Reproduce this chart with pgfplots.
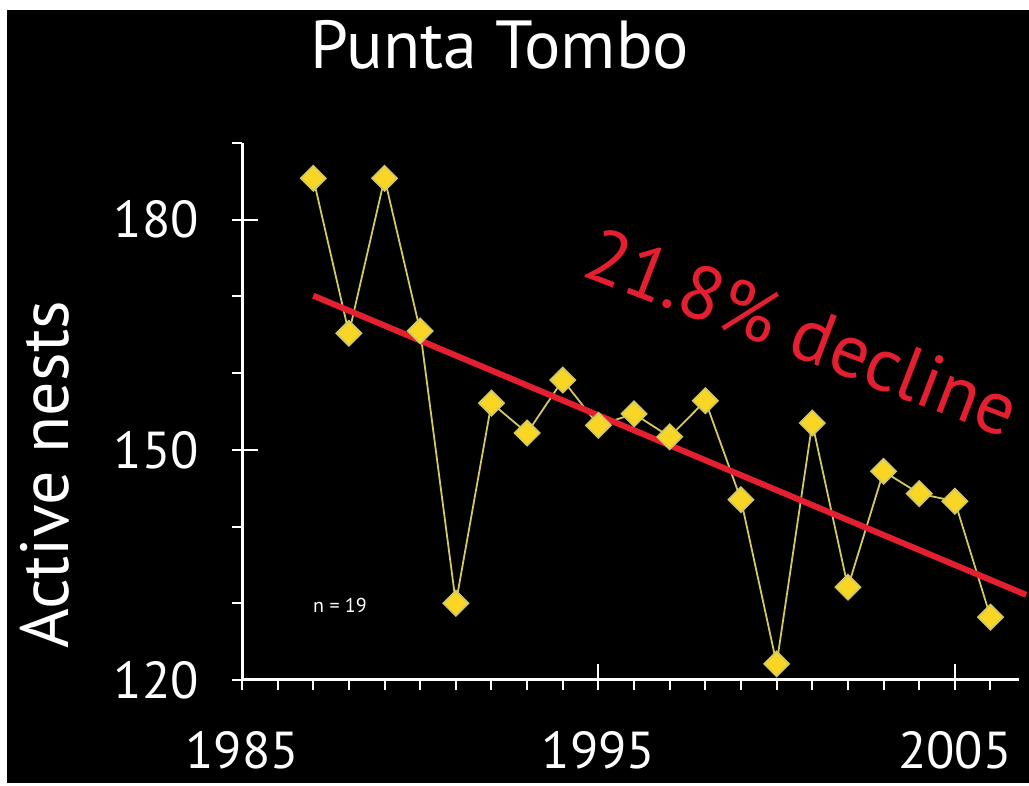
\documentclass[border=0pt]{standalone}
\usepackage{fontspec}
\setmainfont{PT Sans}
\usepackage{pgfplots}
\pgfplotsset{compat=1.18}

\definecolor{nestyellow}{RGB}{250,214,36}
\definecolor{nestline}{RGB}{210,200,100}
\definecolor{trendred}{RGB}{228,32,48}

\begin{document}
\begin{tikzpicture}[x=0.5pt,y=0.5pt]
\useasboundingbox (0,0) rectangle (1029,786);
% slide background
\fill[white] (0,0) rectangle (1029,786);
\fill[black] (7,3) rectangle (1029,776);

\begin{axis}[
    at={(121pt,53pt)}, anchor=south west,
    scale only axis,
    width=388.5pt, height=268.5pt,
    xmin=1985, xmax=2006.8,
    ymin=120, ymax=190,
    axis lines*=left,
    axis line style={white, line width=1.5pt},
    clip=false,
    xtick={1985,1995,2005},
    minor xtick={1986,...,2006},
    ytick={120,150,180},
    minor ytick={130,140,160,170,190},
    tick align=outside,
    major tick length=5pt, minor tick length=5pt,
    tick style={white, line width=1pt},
    extra x ticks={1995,2005},
    extra x tick labels={},
    extra x tick style={tick align=inside, major tick length=8pt},
    extra y ticks={150,180},
    extra y tick labels={},
    extra y tick style={tick align=inside, major tick length=8pt},
    ticklabel style={text=white, font=\fontsize{26}{26}\selectfont},
    /pgf/number format/assume math mode=true,
    /pgf/number format/set thousands separator={},
    xticklabel style={yshift=-17pt},
    yticklabel style={xshift=-13pt},
]

% nest counts
\addplot[color=nestline, line width=0.9pt,
    mark=square*, mark size=4.4pt,
    mark options={fill=nestyellow, draw=none, rotate=45}]
coordinates {
    (1987,185.4) (1988,165.2) (1989,185.4) (1990,165.5)
    (1991,130.0) (1992,156.1) (1993,152.2) (1994,159.1)
    (1995,153.2) (1996,154.7) (1997,151.7) (1998,156.4)
    (1999,143.5) (2000,122.1) (2001,153.5) (2002,132.1)
    (2003,147.2) (2004,144.3) (2005,143.3) (2006,128.2)
};

% linear trend
\addplot[color=trendred, line width=3pt] coordinates {
    (1987,170.1) (2007,131.1)
};
\end{axis}

\node[text=white, font=\fontsize{34}{34}\selectfont] at (500,741) {Punta Tombo};
\node[text=white, rotate=90, font=\fontsize{34}{34}\selectfont] at (45,311) {Active nests};
\node[text=white, font=\fontsize{10}{10}\selectfont] at (340,180) {n = 19};
\node[text=trendred, rotate=-21, inner sep=0pt, font=\fontsize{38}{38}\selectfont] at (803,454) {21.8\% decline};
\end{tikzpicture}
\end{document}
